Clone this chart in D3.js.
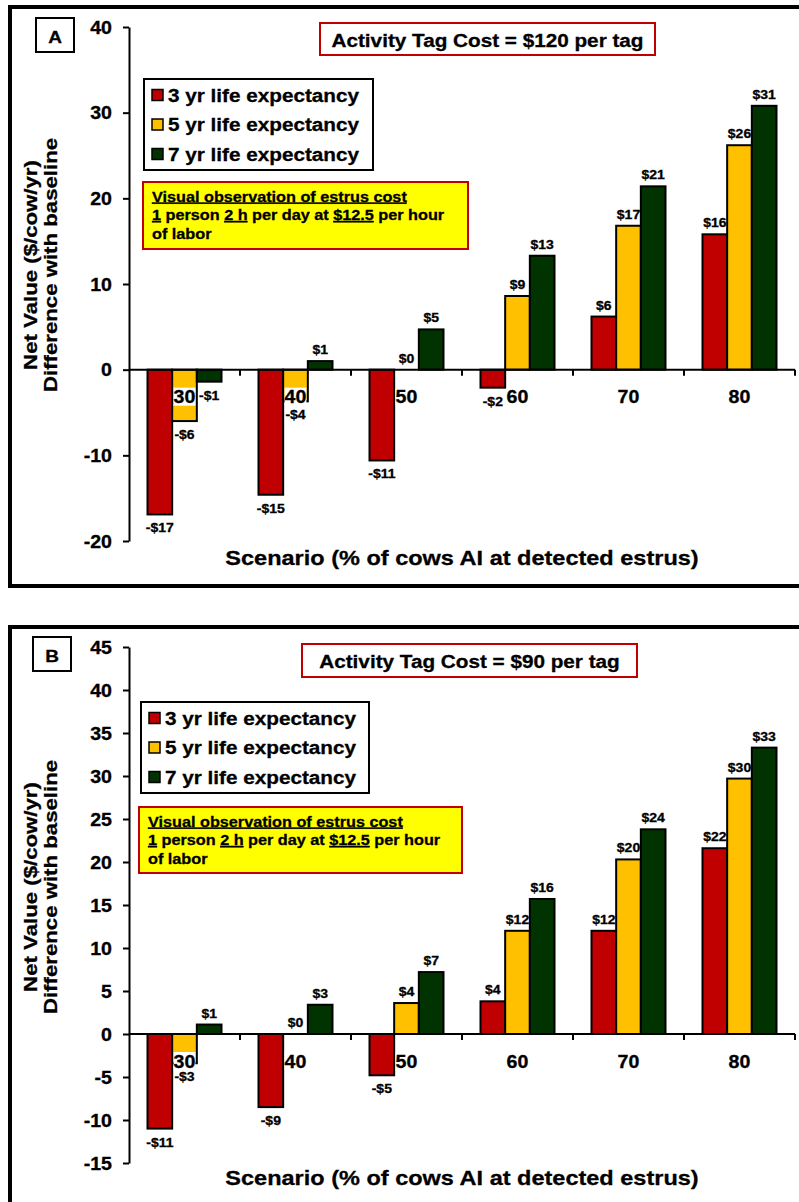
<!DOCTYPE html>
<html>
<head>
<meta charset="utf-8">
<title>Net value by scenario</title>
<script src="https://cdn.jsdelivr.net/npm/d3@7"></script>
<style>
  body { margin: 0; background: #fff; }
  text { font-family: Arial, "Liberation Sans", sans-serif; font-weight: bold; fill: #000; stroke: #000; stroke-width: 0.3px; }
</style>
</head>
<body>
<svg id="chart"></svg>
<script>
// data
var categories = ['30', '40', '50', '60', '70', '80'];
var seriesNames = ['3 yr life expectancy', '5 yr life expectancy', '7 yr life expectancy'];

var tagCostA = 'Activity Tag Cost = $120 per tag';
var a3yr = [-16.9, -14.6, -10.6, -2.1, 6.2, 15.8];
var a5yr = [-6.0, -3.7, 0, 8.6, 16.8, 26.2];
var a7yr = [-1.4, 1.0, 4.7, 13.3, 21.4, 30.8];
var yTicksA = [-20, -10, 0, 10, 20, 30, 40];

var tagCostB = 'Activity Tag Cost = $90 per tag';
var b3yr = [-11.0, -8.5, -4.8, 3.8, 12.0, 21.6];
var b5yr = [-3.4, 0, 3.6, 12.0, 20.3, 29.7];
var b7yr = [1.1, 3.4, 7.2, 15.7, 23.8, 33.3];
var yTicksB = [-15, -10, -5, 0, 5, 10, 15, 20, 25, 30, 35, 40, 45];

var colors = ['#c00000', '#ffc000', '#003300'];
var SX = 1.12; // text in the source is a bit wider than Arial

var svg = d3.select('#chart')
  .attr('width', 799)
  .attr('height', 1202);

function txt(g, x, y, s, size, anchor) {
  return g.append('text')
    .attr('transform', 'translate(' + x + ',' + y + ') scale(' + SX + ',1)')
    .attr('text-anchor', anchor || 'start')
    .style('font-size', size + 'px')
    .text(s);
}

function money(v) {
  return (v < 0 ? '-' : '') + '$' + Math.round(Math.abs(v));
}

function drawPanel(p) {
  var g = svg.append('g');

  // outer frame
  g.append('rect')
    .attr('x', 10).attr('y', p.frameTop)
    .attr('width', 800).attr('height', p.frameH)
    .attr('fill', 'none').attr('stroke', '#000').attr('stroke-width', 4);

  var y = d3.scaleLinear().domain(p.yDomain).range(p.yRange);
  var x = d3.scaleBand().domain(categories).range([129, 795]);
  var xs = d3.scaleBand().domain(d3.range(3)).range([18.5, x.bandwidth() - 18.5]);

  var rows = categories.map(function (c, i) {
    return { cat: c, vals: p.series.map(function (s) { return s[i]; }) };
  });

  // bars
  var grp = g.selectAll('.grp').data(rows).enter().append('g')
    .attr('transform', function (d) { return 'translate(' + x(d.cat) + ',0)'; });

  grp.selectAll('rect')
    .data(function (d) { return d.vals.map(function (v, k) { return { v: v, k: k }; }); })
    .enter().append('rect')
    .attr('x', function (d) { return xs(d.k); })
    .attr('y', function (d) { return y(Math.max(0, d.v)); })
    .attr('width', xs.bandwidth())
    .attr('height', function (d) { return Math.abs(y(d.v) - y(0)); })
    .attr('fill', function (d) { return colors[d.k]; })
    .attr('stroke', '#000').attr('stroke-width', 2);

  // y axis
  var yAxis = d3.axisLeft(y).tickValues(p.yTicks).tickSize(6).tickSizeOuter(0);
  var ya = g.append('g').attr('transform', 'translate(129,0)').call(yAxis);
  ya.select('.domain').attr('stroke-width', 2);
  ya.selectAll('line').attr('stroke-width', 2);
  ya.selectAll('text').remove();
  p.yTicks.forEach(function (t) {
    txt(g, 112, y(t) + 6.5, t, 17.5, 'end');
  });

  // x axis along zero
  var y0 = y(0);
  g.append('line').attr('x1', 129).attr('x2', 795).attr('y1', y0).attr('y2', y0)
    .attr('stroke', '#000').attr('stroke-width', 2);
  var bounds = categories.map(function (c) { return x(c); }).concat([795]).slice(1);
  g.selectAll('.xt').data(bounds).enter().append('line')
    .attr('x1', function (d) { return d; }).attr('x2', function (d) { return d; })
    .attr('y1', y0).attr('y2', y0 + 6)
    .attr('stroke', '#000').attr('stroke-width', 2);

  // category labels with white boxes
  categories.forEach(function (c) {
    var cx = x(c) + x.bandwidth() / 2;
    var r = g.append('rect').attr('fill', '#fff');
    var t = txt(g, cx, y0 + 33.5, c, 17.5, 'middle');
    var bb = t.node().getBBox();
    r.attr('x', cx - bb.width * SX / 2).attr('y', y0 + 18)
      .attr('width', bb.width * SX).attr('height', 18);
  });

  // value labels
  rows.forEach(function (d) {
    d.vals.forEach(function (v, k) {
      var cx = x(d.cat) + xs(k) + xs.bandwidth() / 2;
      var ly = v < 0 ? y(v) + 18 : y(v) - 7;
      txt(g, cx, ly, money(v), 12.5, 'middle');
    });
  });

  // y title, stretched along its length like the source
  var yt = g.append('g').attr('transform', 'translate(0,' + p.yTitleY + ') rotate(-90) scale(1.17,1)');
  yt.append('text').attr('x', 0).attr('y', 37.5).attr('text-anchor', 'middle')
    .style('font-size', '19px').text('Net Value ($/cow/yr)');
  yt.append('text').attr('x', 0).attr('y', 57).attr('text-anchor', 'middle')
    .style('font-size', '19px').text('Difference with baseline');

  // x title
  txt(g, 462, p.xTitleY, 'Scenario (% of cows AI at detected estrus)', 21, 'middle');

  // panel letter
  g.append('rect').attr('x', p.letterBox[0]).attr('y', p.letterBox[1])
    .attr('width', 38).attr('height', 34)
    .attr('fill', '#fff').attr('stroke', '#000').attr('stroke-width', 2);
  txt(g, p.letterBox[0] + 19, p.letterBox[1] + 25, p.letter, 17, 'middle');

  // tag cost box
  var tb = p.titleBox;
  g.append('rect').attr('x', tb[0]).attr('y', tb[1]).attr('width', tb[2]).attr('height', tb[3])
    .attr('fill', '#fff').attr('stroke', '#c00000').attr('stroke-width', 2);
  txt(g, tb[0] + tb[2] / 2, tb[1] + 24, p.title, 18.5, 'middle');

  // legend
  var lb = p.legendBox;
  g.append('rect').attr('x', lb[0]).attr('y', lb[1]).attr('width', lb[2]).attr('height', lb[3])
    .attr('fill', '#fff').attr('stroke', '#000').attr('stroke-width', 2);
  seriesNames.forEach(function (s, k) {
    var ry = lb[1] + 16 + k * 29.5;
    g.append('rect').attr('x', lb[0] + 8).attr('y', ry - 5.5).attr('width', 11).attr('height', 11)
      .attr('fill', colors[k]).attr('stroke', '#000').attr('stroke-width', 1.5);
    txt(g, lb[0] + 24, ry + 6.5, s, 18.5, 'start');
  });

  // note box
  var nb = p.noteBox;
  g.append('rect').attr('x', nb[0]).attr('y', nb[1]).attr('width', nb[2]).attr('height', nb[3])
    .attr('fill', '#ffff00').attr('stroke', '#c00000').attr('stroke-width', 2);
  var nx = nb[0] + 9, ny = nb[1] + 19.5;
  var l1 = txt(g, nx, ny, '', 14.5, 'start');
  l1.append('tspan').style('text-decoration', 'underline').text('Visual observation of estrus cost');
  var l2 = txt(g, nx, ny + 18.5, '', 14.5, 'start');
  l2.append('tspan').style('text-decoration', 'underline').text('1');
  l2.append('tspan').text(' person ');
  l2.append('tspan').style('text-decoration', 'underline').text('2 h');
  l2.append('tspan').text(' per day at ');
  l2.append('tspan').style('text-decoration', 'underline').text('$12.5');
  l2.append('tspan').text(' per hour');
  txt(g, nx, ny + 37, 'of labor', 14.5, 'start');
}

drawPanel({
  letter: 'A', title: tagCostA, series: [a3yr, a5yr, a7yr], yTicks: yTicksA,
  yDomain: [-20, 40], yRange: [541, 27],
  frameTop: 7, frameH: 579,
  yTitleY: 265, xTitleY: 565,
  letterBox: [36, 18], titleBox: [320, 23, 335, 32],
  legendBox: [144, 79, 229, 91], noteBox: [143, 182, 325, 67]
});

drawPanel({
  letter: 'B', title: tagCostB, series: [b3yr, b5yr, b7yr], yTicks: yTicksB,
  yDomain: [-15, 45], yRange: [1163, 647],
  frameTop: 627, frameH: 600,
  yTitleY: 887, xTitleY: 1185,
  letterBox: [33, 637], titleBox: [302, 644, 335, 33],
  legendBox: [141, 702, 228, 91], noteBox: [139, 807, 323, 66]
});
</script>
</body>
</html>
